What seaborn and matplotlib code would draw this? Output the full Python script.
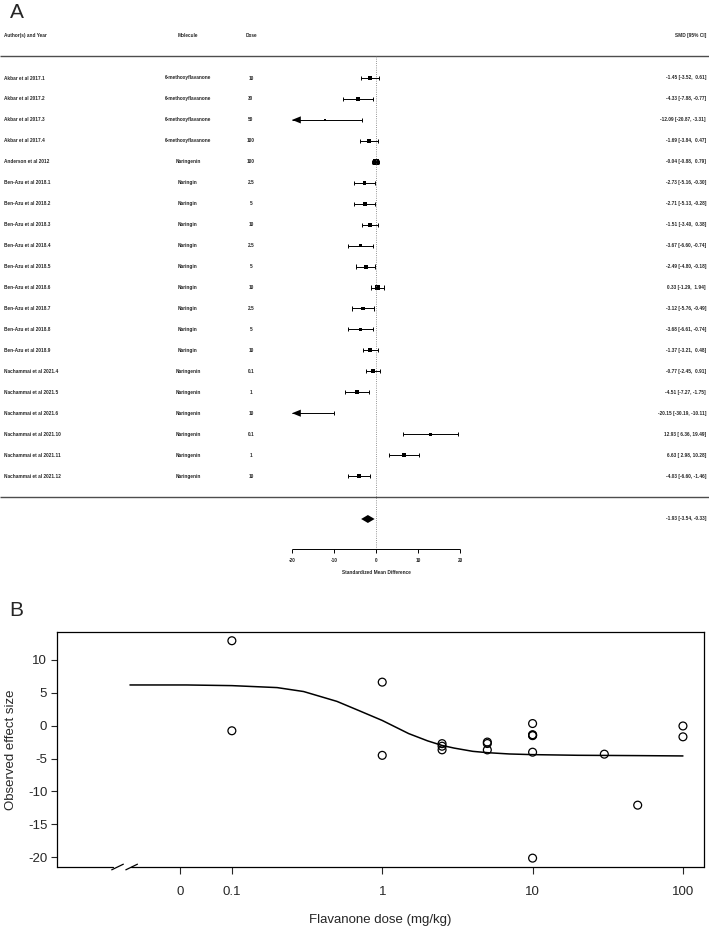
import numpy as np
import pandas as pd
import matplotlib
matplotlib.use("Agg")
import matplotlib.pyplot as plt
import seaborn as sns

sns.set_style("white")
plt.rcParams['font.family'] = ['Liberation Sans', 'DejaVu Sans']
plt.rcParams['axes.unicode_minus'] = False

# data for the forest plot (panel A)
studies = ["Akbar et al 2017.1", "Akbar et al 2017.2", "Akbar et al 2017.3", "Akbar et al 2017.4",
           "Anderson et al 2012",
           "Ben-Azu et al 2018.1", "Ben-Azu et al 2018.2", "Ben-Azu et al 2018.3",
           "Ben-Azu et al 2018.4", "Ben-Azu et al 2018.5", "Ben-Azu et al 2018.6",
           "Ben-Azu et al 2018.7", "Ben-Azu et al 2018.8", "Ben-Azu et al 2018.9",
           "Nachammai et al 2021.4", "Nachammai et al 2021.5", "Nachammai et al 2021.6",
           "Nachammai et al 2021.10", "Nachammai et al 2021.11", "Nachammai et al 2021.12"]
molecules = ["6-methoxyflavanone"] * 4 + ["Naringenin"] + ["Naringin"] * 9 + ["Naringenin"] * 6
doses = [10, 30, 50, 100, 100, 2.5, 5, 10, 2.5, 5, 10, 2.5, 5, 10, 0.1, 1, 10, 0.1, 1, 10]
smd = [-1.45, -4.33, -12.09, -1.69, -0.04, -2.73, -2.71, -1.51, -3.67, -2.49, 0.33,
       -3.12, -3.68, -1.37, -0.77, -4.51, -20.15, 12.93, 6.63, -4.03]
ci_low = [-3.52, -7.88, -20.87, -3.84, -0.88, -5.16, -5.13, -3.40, -6.60, -4.80, -1.29,
          -5.76, -6.61, -3.21, -2.45, -7.27, -30.19, 6.36, 2.98, -6.60]
ci_high = [0.61, -0.77, -3.31, 0.47, 0.79, -0.30, -0.28, 0.38, -0.74, -0.18, 1.94,
           -0.49, -0.74, 0.48, 0.91, -1.75, -10.11, 19.49, 10.28, -1.46]
pooled_smd, pooled_low, pooled_high = -1.93, -3.54, -0.33

# fitted dose-response curve
curve_dose = [0.021, 0.05, 0.1, 0.2, 0.3, 0.5, 0.7, 1.0, 1.5, 2.0, 2.5, 3, 4, 5, 7, 10, 20, 50, 100]
curve_effect = [6.2, 6.2, 6.1, 5.8, 5.2, 3.7, 2.3, 0.8, -1.2, -2.3, -3.0, -3.4, -3.9, -4.1,
                -4.3, -4.4, -4.5, -4.55, -4.6]

fig = plt.figure(figsize=(7.09, 9.27), dpi=100)

# ---------------- panel A: forest plot ----------------
W, H = 709, 927
axA = fig.add_axes([0, 1 - 590 / H, 1, 590 / H])
axA.axis("off")
px = 4.2  # pixels per SMD unit
xmin, xmax = -376 / px, (709 - 376) / px
rowh = 20.95
ylims = (1 + (590 - 78) / rowh, 1 - 78 / rowh)

df = pd.DataFrame({"study": studies, "molecule": molecules, "dose": doses,
                   "smd": smd, "lo": ci_low, "hi": ci_high})
df["row"] = np.arange(1, len(df) + 1)
wi = 3.92 / (df["hi"] - df["lo"])
norm = (wi - wi.min()) / (wi.max() - wi.min())
df["area"] = (1.4 + 2.6 * np.sqrt(norm)) ** 2

fs = 3.4
x_author, x_mol, x_dose, x_smd = (4 - 376) / px, (188 - 376) / px, (251 - 376) / px, (706 - 376) / px
tkw = dict(fontsize=fs, fontweight="bold", va="center")
hdr = -1.05
axA.text(x_author, hdr, "Author(s) and Year", **tkw)
axA.text(x_mol, hdr, "Molecule", ha="center", **tkw)
axA.text(x_dose, hdr, "Dose", ha="center", **tkw)
axA.text(x_smd, hdr, "SMD [95% CI]", ha="right", **tkw)
axA.hlines([-0.05, 21.0], xmin, xmax, color="0.3", lw=1.0)
axA.vlines(0, -0.05, 23.5, color="0.45", lw=0.6, linestyles=":")

for _, r in df.iterrows():
    y = r["row"]
    axA.text(x_author, y, r["study"], **tkw)
    axA.text(x_mol, y, r["molecule"], ha="center", **tkw)
    axA.text(x_dose, y, f"{r['dose']:g}", ha="center", **tkw)
    axA.text(x_smd, y, f"{r['smd']:.2f} [{r['lo']:5.2f}, {r['hi']:5.2f}]", ha="right", **tkw)
    lo, hi = max(r["lo"], -20), min(r["hi"], 20)
    axA.hlines(y, lo, hi, color="k", lw=0.7)
    if r["lo"] >= -20:
        axA.vlines(r["lo"], y - 0.1, y + 0.1, color="k", lw=0.7)
    else:
        axA.fill([-20, -20 + 2.1, -20 + 2.1], [y, y - 0.17, y + 0.17], color="k", lw=0)
    if r["hi"] <= 20:
        axA.vlines(r["hi"], y - 0.1, y + 0.1, color="k", lw=0.7)

inside = df[(df["smd"] >= -20) & (df["smd"] <= 20)]
sns.scatterplot(data=inside, x="smd", y="row", size="area",
                sizes=(df["area"].min(), df["area"].max()),
                size_norm=(df["area"].min(), df["area"].max()),
                marker="s", color="k", linewidth=0, legend=False, ax=axA)

# pooled estimate
yd = 22.05
axA.fill([pooled_low, pooled_smd, pooled_high, pooled_smd], [yd, yd - 0.19, yd, yd + 0.19], color="k", lw=0)
axA.text(x_smd, yd, f"{pooled_smd:.2f} [{pooled_low:5.2f}, {pooled_high:5.2f}]", ha="right", **tkw)

# bottom axis of the forest plot
ya = 23.5
axA.hlines(ya, -20, 20, color="k", lw=0.7)
for t in [-20, -10, 0, 10, 20]:
    axA.vlines(t, ya, ya + 0.15, color="k", lw=0.7)
    axA.text(t, ya + 0.55, f"{t}", ha="center", **tkw)
axA.text(0, ya + 1.08, "Standardized Mean Difference", ha="center", **tkw)
axA.set_xlim(xmin, xmax)
axA.set_ylim(*ylims)

fig.text(10 / W, 1 - 12 / H, "A", fontsize=15, va="center", ha="left")

# ---------------- panel B: dose-response ----------------
axB = fig.add_axes([57 / W, 1 - 867 / H, 647 / W, 235 / H])
sns.scatterplot(x=doses, y=smd, marker="o", s=32, facecolor="none", edgecolor="k",
                linewidth=0.9, ax=axB)
sns.lineplot(x=curve_dose, y=curve_effect, color="k", lw=1.1, ax=axB)
axB.set_xscale("log")
axB.set_xlim(10 ** -2.163, 10 ** 2.14)
axB.set_ylim(-21.5, 14.26)
zero_pos = 10 ** -1.345
axB.set_xticks([zero_pos, 0.1, 1, 10, 100])
axB.set_xticklabels(["0", "0.1", "1", "10", "100"])
axB.minorticks_off()
axB.set_yticks([-20, -15, -10, -5, 0, 5, 10])
axB.tick_params(axis="x", direction="out", length=5, width=0.8, pad=9, labelsize=9.5, bottom=True)
axB.tick_params(axis="y", direction="out", length=4, width=0.8, pad=3, labelsize=9.5, left=True)
axB.set_xlabel("Flavanone dose (mg/kg)", fontsize=9.5, labelpad=11)
axB.set_ylabel("Observed effect size", fontsize=9.5, labelpad=8)
for s in ["top", "right", "left"]:
    axB.spines[s].set_linewidth(0.9)
    axB.spines[s].set_color("k")
axB.spines["bottom"].set_visible(False)

# broken x axis near zero
tr = axB.transAxes
g1, g2 = (113 - 57) / 647, (131 - 57) / 647
kw = dict(transform=tr, color="k", lw=0.9, clip_on=False)
axB.plot([0, g1], [0, 0], **kw)
axB.plot([g2, 1], [0, 0], **kw)
axB.plot([g1 - 0.002, g1 + 0.016], [-0.012, 0.012], **kw)
axB.plot([g2 - 0.008, g2 + 0.010], [-0.012, 0.012], **kw)

fig.text(9 / W, 1 - 611 / H, "B", fontsize=15, va="center", ha="left")

fig.savefig("out.png", dpi=100)
